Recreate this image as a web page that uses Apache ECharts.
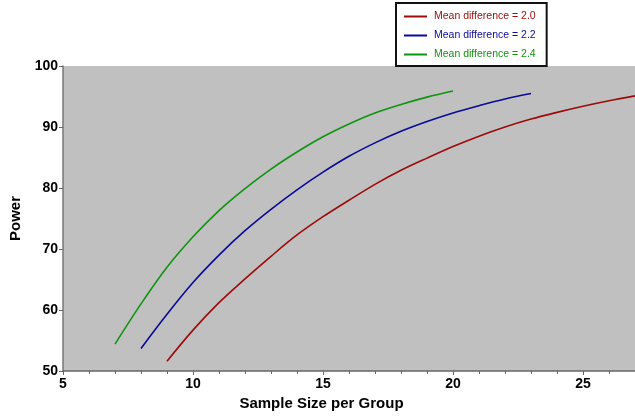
<!DOCTYPE html>
<html>
<head>
<meta charset="utf-8">
<script src="https://cdn.jsdelivr.net/npm/echarts@6/dist/echarts.min.js"></script>
<style>
  html, body { margin: 0; padding: 0; background: #fff; }
  #chart { width: 635px; height: 416px; }
</style>
</head>
<body>
<div id="chart"></div>
<script>
// values
const seriesNames = ['Mean difference = 2.0', 'Mean difference = 2.2', 'Mean difference = 2.4'];
const seriesColors = ['#9c0a0a', '#0a0a96', '#0f940f'];

const sizes20 = [9, 10, 11, 12, 13, 14, 15, 16, 17, 18, 19, 20, 21, 22, 23, 24, 25, 26, 27];
const power20 = [51.6, 56.7, 61.2, 65.1, 68.8, 72.3, 75.3, 78.0, 80.6, 82.9, 84.9, 86.8, 88.5, 90.0, 91.3, 92.4, 93.4, 94.3, 95.1];

const sizes22 = [8, 9, 10, 11, 12, 13, 14, 15, 16, 17, 18, 19, 20, 21, 22, 23];
const power22 = [53.7, 59.3, 64.5, 69.0, 73.0, 76.5, 79.7, 82.6, 85.2, 87.4, 89.3, 90.9, 92.3, 93.5, 94.6, 95.5];

const sizes24 = [7, 8, 9, 10, 11, 12, 13, 14, 15, 16, 17, 18, 19, 20];
const power24 = [54.4, 61.0, 67.0, 72.0, 76.3, 79.9, 83.1, 85.9, 88.4, 90.5, 92.3, 93.7, 94.9, 95.9];

const xTicks = [5, 10, 15, 20, 25];
const yTicks = [50, 60, 70, 80, 90, 100];

const allSizes = [sizes20, sizes22, sizes24];
const allPower = [power20, power22, power24];

const chart = echarts.init(document.getElementById('chart'), null, { renderer: 'canvas' });

const labelFont = { color: '#000', fontFamily: 'Liberation Sans', fontWeight: 'bold', fontSize: 14 };

const option = {
  backgroundColor: '#fff',
  animation: false,
  grid: { left: 60, right: 0, top: 66, bottom: 39, show: true, backgroundColor: '#c0c0c0', borderWidth: 0 },
  legend: {
    orient: 'vertical',
    left: 396,
    top: 3,
    backgroundColor: '#fff',
    borderColor: '#111',
    borderWidth: 2,
    borderRadius: 0,
    padding: [8, 11, 6, 8],
    itemGap: 8,
    itemWidth: 23,
    itemHeight: 2,
    icon: 'rect',
    data: seriesNames.map((n, i) => ({
      name: n,
      textStyle: { color: seriesColors[i], fontFamily: 'Liberation Sans', fontSize: 10.5, padding: [0, 0, 0, 2] }
    }))
  },
  xAxis: {
    type: 'value',
    min: 5,
    max: 27,
    interval: 5,
    name: 'Sample Size per Group',
    nameLocation: 'middle',
    nameGap: 25,
    nameTextStyle: Object.assign({}, labelFont, { fontSize: 15, padding: [0, 55, 0, 0] }),
    axisLine: { lineStyle: { color: '#666', width: 1.5 } },
    axisTick: { show: true, length: 4, lineStyle: { color: '#666' } },
    minorTick: { show: true, splitNumber: 5, length: 3, lineStyle: { color: '#666' } },
    splitLine: { show: false },
    axisLabel: Object.assign({}, labelFont, {
      margin: 6,
      showMaxLabel: false,
      formatter: v => (xTicks.includes(v) ? String(v) : '')
    })
  },
  yAxis: {
    type: 'value',
    min: 50,
    max: 100,
    interval: 10,
    name: 'Power',
    nameLocation: 'middle',
    nameGap: 40,
    nameTextStyle: Object.assign({}, labelFont, { fontSize: 15 }),
    axisLine: { show: true, lineStyle: { color: '#777', width: 1.5 } },
    axisTick: { show: true, length: 4, lineStyle: { color: '#666' } },
    splitLine: { show: false },
    axisLabel: Object.assign({}, labelFont, {
      margin: 5,
      formatter: v => (yTicks.includes(v) ? String(v) : '')
    })
  },
  series: seriesNames.map((n, i) => ({
    name: n,
    type: 'line',
    smooth: 0.35,
    showSymbol: false,
    symbol: 'none',
    lineStyle: { color: seriesColors[i], width: 1.6 },
    itemStyle: { color: seriesColors[i] },
    data: allSizes[i].map((s, j) => [s, allPower[i][j]])
  }))
};

chart.setOption(option);
</script>
</body>
</html>
